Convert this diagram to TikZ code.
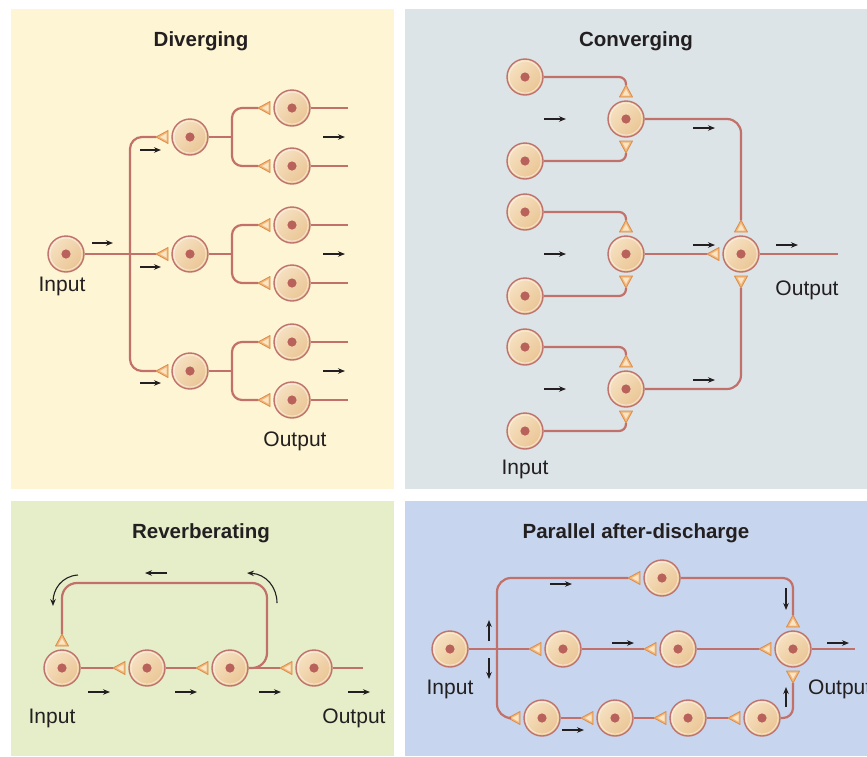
\documentclass[tikz,border=0pt]{standalone}
\usepackage{fontspec}
\setmainfont{Liberation Sans}
\usetikzlibrary{arrows.meta}
\definecolor{bgY}{HTML}{FDF5D3}
\definecolor{bgG}{HTML}{DCE4E8}
\definecolor{bgE}{HTML}{E5EEC9}
\definecolor{bgB}{HTML}{C7D6EE}
\definecolor{axonc}{HTML}{C2716A}
\definecolor{cellb}{HTML}{C0736C}
\definecolor{cellL}{HTML}{F6E1C2}
\definecolor{cellD}{HTML}{EAC594}
\definecolor{nucc}{HTML}{B9625B}
\definecolor{synF}{HTML}{F3B877}
\definecolor{synD}{HTML}{DB8C4C}
\definecolor{synI}{HTML}{FBE4C4}
\definecolor{textc}{HTML}{231F20}
\tikzset{
  axon/.style={draw=axonc, line width=2.2pt},
  neuron/.style={circle, draw=cellb, line width=1.4pt, minimum size=36pt, inner sep=0pt,
    top color=cellL, bottom color=cellD, shading angle=45,
    path picture={
      \draw[white, opacity=.55, line width=.8pt] (path picture bounding box.center) circle (16pt);
      \fill[nucc] (path picture bounding box.center) circle (4.6pt);}},
  flow/.style={draw=textc, line width=1.1pt, -{Stealth[length=7pt,width=5.5pt]}},
  lbl/.style={font=\fontsize{21}{25}\selectfont, text=textc, inner sep=0pt, anchor=base},
  ttl/.style={lbl, font=\fontsize{20.5}{25}\selectfont\bfseries},
  synL/.pic={\coordinate (-tip) at (0,0);
    \filldraw[fill=synF, draw=synD, line width=.8pt, line join=round] (0,0) -- (12,-6.5) -- (12,6.5) -- cycle;
    \fill[synI] (4,0) -- (10.5,-3.6) -- (10.5,3.6) -- cycle;},
  synU/.pic={\coordinate (-tip) at (0,0);
    \filldraw[fill=synF, draw=synD, line width=.8pt, line join=round] (0,0) -- (-6.5,12) -- (6.5,12) -- cycle;
    \fill[synI] (0,4) -- (-3.6,10.5) -- (3.6,10.5) -- cycle;},
  synDn/.pic={\coordinate (-tip) at (0,0);
    \filldraw[fill=synF, draw=synD, line width=.8pt, line join=round] (0,0) -- (-6.5,-12) -- (6.5,-12) -- cycle;
    \fill[synI] (0,-4) -- (-3.6,-10.5) -- (3.6,-10.5) -- cycle;},
}
\begin{document}
\begin{tikzpicture}[x=1pt,y=-1pt]
\useasboundingbox (0,0) rectangle (867,756);
\clip (0,0) rectangle (867,756);
% panels
\fill[bgY] (11,9) rectangle (394,489);
\fill[bgG] (405,9) rectangle (867,489);
\fill[bgE] (11,501) rectangle (394,756);
\fill[bgB] (405,501) rectangle (867,756);

% ================= Diverging =================
\node[ttl] (tD) at (201,46) {Diverging};
\node[neuron] (dIn) at (66,254) {};
\node[neuron] (dA) at (190,137) {};
\node[neuron] (dB) at (190,254) {};
\node[neuron] (dC) at (190,371) {};
\node[neuron] (dA1) at (292,108) {};
\node[neuron] (dA2) at (292,166) {};
\node[neuron] (dB1) at (292,225) {};
\node[neuron] (dB2) at (292,283) {};
\node[neuron] (dC1) at (292,342) {};
\node[neuron] (dC2) at (292,400) {};
\pic (sA) at (156,137) {synL};
\pic (sB) at (156,254) {synL};
\pic (sC) at (156,371) {synL};
\pic (sA1) at (258,108) {synL};
\pic (sA2) at (258,166) {synL};
\pic (sB1) at (258,225) {synL};
\pic (sB2) at (258,283) {synL};
\pic (sC1) at (258,342) {synL};
\pic (sC2) at (258,400) {synL};
\draw[axon] (dIn) -- (sB-tip);
\draw[axon, rounded corners=12pt] (sA-tip) -- (130,137) -- (130,371) -- (sC-tip);
\draw[axon] (dA) -- (232,137);
\draw[axon] (dB) -- (232,254);
\draw[axon] (dC) -- (232,371);
\draw[axon, rounded corners=10pt] (sA1-tip) -- (232,108) -- (232,166) -- (sA2-tip);
\draw[axon, rounded corners=10pt] (sB1-tip) -- (232,225) -- (232,283) -- (sB2-tip);
\draw[axon, rounded corners=10pt] (sC1-tip) -- (232,342) -- (232,400) -- (sC2-tip);
\foreach \n in {dA1,dA2,dB1,dB2,dC1,dC2} {\draw[axon] (\n) -- ++(56,0);}
\draw[flow] (92,243) -- (113,243);
\draw[flow] (140,150) -- (161,150);
\draw[flow] (140,267) -- (161,267);
\draw[flow] (140,383) -- (161,383);
\draw[flow] (323,137) -- (345,137);
\draw[flow] (323,254) -- (345,254);
\draw[flow] (323,371) -- (345,371);
\node[lbl] (lDin) at (62,291) {Input};
\node[lbl] (lDout) at (295,446) {Output};

% ================= Converging =================
\node[ttl] (tC) at (636,46) {Converging};
\node[neuron] (cI1) at (525,77) {};
\node[neuron] (cI2) at (525,161) {};
\node[neuron] (cI3) at (525,212) {};
\node[neuron] (cI4) at (525,296) {};
\node[neuron] (cI5) at (525,347) {};
\node[neuron] (cI6) at (525,431) {};
\node[neuron] (cM1) at (626,119) {};
\node[neuron] (cM2) at (626,254) {};
\node[neuron] (cM3) at (626,389) {};
\node[neuron] (cOut) at (741,254) {};
\pic (cU1) at (626,85) {synU};
\pic (cD1) at (626,153) {synDn};
\pic (cU2) at (626,220) {synU};
\pic (cD2) at (626,288) {synDn};
\pic (cU3) at (626,355) {synU};
\pic (cD3) at (626,423) {synDn};
\pic (cOU) at (741,220) {synU};
\pic (cOL) at (707,254) {synL};
\pic (cOD) at (741,288) {synDn};
\draw[axon, rounded corners=7pt] (cI1) -- (626,77) -- (cU1-tip);
\draw[axon, rounded corners=7pt] (cI2) -- (626,161) -- (cD1-tip);
\draw[axon, rounded corners=7pt] (cI3) -- (626,212) -- (cU2-tip);
\draw[axon, rounded corners=7pt] (cI4) -- (626,296) -- (cD2-tip);
\draw[axon, rounded corners=7pt] (cI5) -- (626,347) -- (cU3-tip);
\draw[axon, rounded corners=7pt] (cI6) -- (626,431) -- (cD3-tip);
\draw[axon, rounded corners=14pt] (cM1) -- (741,119) -- (cOU-tip);
\draw[axon] (cM2) -- (cOL-tip);
\draw[axon, rounded corners=14pt] (cM3) -- (741,389) -- (cOD-tip);
\draw[axon] (cOut) -- (838,254);
\draw[flow] (544,119) -- (566,119);
\draw[flow] (544,254) -- (566,254);
\draw[flow] (544,389) -- (566,389);
\draw[flow] (693,128) -- (715,128);
\draw[flow] (693,245) -- (715,245);
\draw[flow] (693,380) -- (715,380);
\draw[flow] (776,245) -- (798,245);
\node[lbl] (lCout) at (807,295) {Output};
\node[lbl] (lCin) at (525,474) {Input};

% ================= Reverberating =================
\node[ttl] (tR) at (201,538) {Reverberating};
\node[neuron] (rN1) at (62,668) {};
\node[neuron] (rN2) at (147,668) {};
\node[neuron] (rN3) at (230,668) {};
\node[neuron] (rN4) at (314,668) {};
\pic (rS1) at (62,634) {synU};
\pic (rS2) at (113,668) {synL};
\pic (rS3) at (196,668) {synL};
\pic (rS4) at (280,668) {synL};
\draw[axon] (rN1) -- (rS2-tip);
\draw[axon] (rN2) -- (rS3-tip);
\draw[axon] (rN3) -- (rS4-tip);
\draw[axon] (rN4) -- ++(49,0);
\draw[axon, rounded corners=15pt] (rN3.east) -- (267,668) -- (267,583) -- (62,583) -- (rS1-tip);
\draw[flow] (167,573) -- (145,573);
\draw[flow] (78,575) .. controls (62,576) and (53,589) .. (53,606);
\draw[flow] (277,603) .. controls (277,587) and (266,574) .. (247,573);
\draw[flow] (88,692) -- (110,692);
\draw[flow] (175,692) -- (197,692);
\draw[flow] (259,692) -- (281,692);
\draw[flow] (348,692) -- (370,692);
\node[lbl] (lRin) at (52,723) {Input};
\node[lbl] (lRout) at (354,723) {Output};

% ================= Parallel after-discharge =================
\node[ttl] (tP) at (636,538) {Parallel after-discharge};
\node[neuron] (pIn) at (450,649) {};
\node[neuron] (pM1) at (563,649) {};
\node[neuron] (pM2) at (678,649) {};
\node[neuron] (pOut) at (793,649) {};
\node[neuron] (pT) at (662,578) {};
\node[neuron] (pB1) at (542,718) {};
\node[neuron] (pB2) at (615,718) {};
\node[neuron] (pB3) at (688,718) {};
\node[neuron] (pB4) at (762,718) {};
\pic (pS1) at (529,649) {synL};
\pic (pS2) at (644,649) {synL};
\pic (pS3) at (759,649) {synL};
\pic (pST) at (628,578) {synL};
\pic (pOU) at (793,615) {synU};
\pic (pOD) at (793,683) {synDn};
\pic (pSB1) at (508,718) {synL};
\pic (pSB2) at (581,718) {synL};
\pic (pSB3) at (654,718) {synL};
\pic (pSB4) at (728,718) {synL};
\draw[axon] (pIn) -- (pS1-tip);
\draw[axon, rounded corners=14pt] (pST-tip) -- (497,578) -- (497,718) -- (pSB1-tip);
\draw[axon] (pM1) -- (pS2-tip);
\draw[axon] (pM2) -- (pS3-tip);
\draw[axon] (pOut) -- ++(62,0);
\draw[axon, rounded corners=10pt] (pT) -- (793,578) -- (pOU-tip);
\draw[axon] (pB1) -- (pSB2-tip);
\draw[axon] (pB2) -- (pSB3-tip);
\draw[axon] (pB3) -- (pSB4-tip);
\draw[axon, rounded corners=10pt] (pB4) -- (793,718) -- (pOD-tip);
\draw[flow] (550,584) -- (572,584);
\draw[flow] (489,641) -- (489,620);
\draw[flow] (489,658) -- (489,679);
\draw[flow] (612,643) -- (634,643);
\draw[flow] (562,730) -- (584,730);
\draw[flow] (786,588) -- (786,610);
\draw[flow] (786,707) -- (786,687);
\draw[flow] (827,643) -- (849,643);
\node[lbl] (lPin) at (450,694) {Input};
\node[lbl, anchor=base west] (lPout) at (808,694) {Output};
\end{tikzpicture}
\end{document}
